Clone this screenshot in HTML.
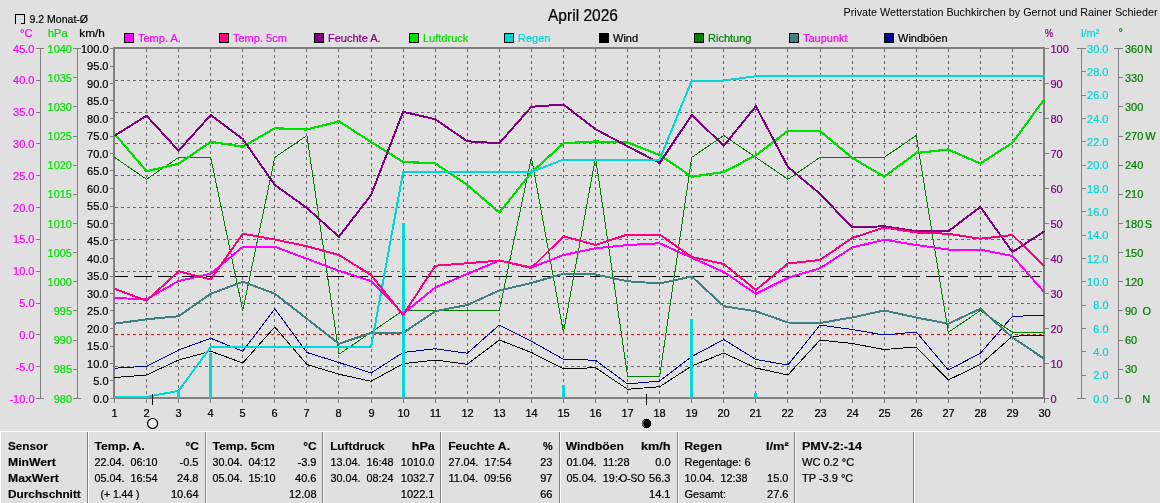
<!DOCTYPE html>
<html lang="de"><head><meta charset="utf-8"><title>April 2026 - Private Wetterstation Buchkirchen</title>
<style>html,body{margin:0;padding:0;background:#e0e0e0;overflow:hidden}svg{display:block}text{font-family:"Liberation Sans",Arial,sans-serif;font-size:11px;stroke-width:.22px}.b{font-weight:bold;stroke-width:.15px}</style>
</head><body>
<svg width="1160" height="503" viewBox="0 0 1160 503">
<rect x="0" y="0" width="1160" height="503" fill="#e0e0e0"/>
<g shape-rendering="crispEdges" fill="none">
<g stroke="#686868" stroke-width="1" stroke-dasharray="3 3">
<line x1="146.5" y1="49" x2="146.5" y2="397"/>
<line x1="178.5" y1="49" x2="178.5" y2="397"/>
<line x1="210.5" y1="49" x2="210.5" y2="397"/>
<line x1="242.5" y1="49" x2="242.5" y2="397"/>
<line x1="274.5" y1="49" x2="274.5" y2="397"/>
<line x1="306.5" y1="49" x2="306.5" y2="397"/>
<line x1="338.5" y1="49" x2="338.5" y2="397"/>
<line x1="371.5" y1="49" x2="371.5" y2="397"/>
<line x1="403.5" y1="49" x2="403.5" y2="397"/>
<line x1="435.5" y1="49" x2="435.5" y2="397"/>
<line x1="467.5" y1="49" x2="467.5" y2="397"/>
<line x1="499.5" y1="49" x2="499.5" y2="397"/>
<line x1="531.5" y1="49" x2="531.5" y2="397"/>
<line x1="563.5" y1="49" x2="563.5" y2="397"/>
<line x1="595.5" y1="49" x2="595.5" y2="397"/>
<line x1="627.5" y1="49" x2="627.5" y2="397"/>
<line x1="659.5" y1="49" x2="659.5" y2="397"/>
<line x1="691.5" y1="49" x2="691.5" y2="397"/>
<line x1="723.5" y1="49" x2="723.5" y2="397"/>
<line x1="755.5" y1="49" x2="755.5" y2="397"/>
<line x1="787.5" y1="49" x2="787.5" y2="397"/>
<line x1="820.5" y1="49" x2="820.5" y2="397"/>
<line x1="852.5" y1="49" x2="852.5" y2="397"/>
<line x1="884.5" y1="49" x2="884.5" y2="397"/>
<line x1="916.5" y1="49" x2="916.5" y2="397"/>
<line x1="948.5" y1="49" x2="948.5" y2="397"/>
<line x1="980.5" y1="49" x2="980.5" y2="397"/>
<line x1="1012.5" y1="49" x2="1012.5" y2="397"/>
<line x1="115" y1="80.5" x2="1043" y2="80.5"/>
<line x1="115" y1="112.5" x2="1043" y2="112.5"/>
<line x1="115" y1="143.5" x2="1043" y2="143.5"/>
<line x1="115" y1="175.5" x2="1043" y2="175.5"/>
<line x1="115" y1="207.5" x2="1043" y2="207.5"/>
<line x1="115" y1="239.5" x2="1043" y2="239.5"/>
<line x1="115" y1="271.5" x2="1043" y2="271.5"/>
<line x1="115" y1="303.5" x2="1043" y2="303.5"/>
<line x1="115" y1="366.5" x2="1043" y2="366.5"/>
</g>
<line x1="115" y1="334.5" x2="1043" y2="334.5" stroke="#ff0000" stroke-width="1" stroke-dasharray="3 3"/>
<line x1="114" y1="276.5" x2="1044" y2="276.5" stroke="#000" stroke-width="1" stroke-dasharray="18 6" stroke-dashoffset="4"/>
</g>
<g shape-rendering="crispEdges">
<rect x="114" y="48" width="930" height="350" fill="none" stroke="#808080" stroke-width="2"/>
<polyline points="114.5,368.25 146.57,366.25 178.64,350 210.71,338.25 242.78,351.25 274.84,308.75 306.91,352.5 338.98,362.5 371.05,373 403.12,352.5 435.19,348.75 467.26,353.25 499.33,325 531.4,341.25 563.47,359.25 595.53,360.25 627.6,384 659.67,381 691.74,356.5 723.81,339.5 755.88,359.5 787.95,365 820.02,325 852.09,329.5 884.16,335 916.22,332 948.29,370 980.36,353.25 1012.43,316.25 1044.5,315.5" fill="none" stroke="#000090" stroke-width="1" stroke-linejoin="round"/>
<polyline points="114.5,157.38 146.57,179.25 178.64,157.38 210.71,157.38 242.78,310.5 274.84,157.38 306.91,135.5 338.98,354.25 371.05,332.38 403.12,310.5 435.19,310.5 467.26,310.5 499.33,310.5 531.4,157.38 563.47,332.38 595.53,157.38 627.6,376.12 659.67,376.12 691.74,157.38 723.81,135.5 755.88,157.38 787.95,179.25 820.02,157.38 852.09,157.38 884.16,157.38 916.22,135.5 948.29,332.38 980.36,310.5 1012.43,332.38 1044.5,332.38" fill="none" stroke="#008000" stroke-width="1" stroke-linejoin="round"/>
<polyline points="114.5,377.5 146.57,375 178.64,360 210.71,351.25 242.78,363 274.84,327 306.91,364.5 338.98,374.25 371.05,381.25 403.12,363.75 435.19,360 467.26,364.25 499.33,340 531.4,352.5 563.47,368.75 595.53,367.75 627.6,389.25 659.67,386.75 691.74,366 723.81,353 755.88,368 787.95,375 820.02,340 852.09,343.5 884.16,349.5 916.22,347 948.29,380 980.36,364.5 1012.43,336.25 1044.5,335" fill="none" stroke="#000000" stroke-width="1" stroke-linejoin="round"/>
<polyline points="114.5,323.75 146.57,319.25 178.64,316.25 210.71,293.75 242.78,281.75 274.84,293.75 306.91,318.75 338.98,343.75 371.05,333 403.12,333 435.19,311.25 467.26,305 499.33,290.5 531.4,283 563.47,273.75 595.53,274.5 627.6,281.25 659.67,283.5 691.74,276.5 723.81,306.25 755.88,311.25 787.95,322.5 820.02,323 852.09,317.5 884.16,310.5 916.22,317.5 948.29,323.75 980.36,308.75 1012.43,337.5 1044.5,359" fill="none" stroke="#408080" stroke-width="2" stroke-linejoin="round"/>
<polyline points="114.5,133.75 146.57,171.25 178.64,163.75 210.71,141.75 242.78,146.75 274.84,128.25 306.91,129.5 338.98,121.25 371.05,142 403.12,162 435.19,163.25 467.26,185 499.33,212.5 531.4,172.5 563.47,143.25 595.53,141.5 627.6,142.5 659.67,155 691.74,176.75 723.81,172 755.88,155.25 787.95,131 820.02,131 852.09,157.75 884.16,176.75 916.22,153 948.29,149.5 980.36,163.5 1012.43,142.75 1044.5,99" fill="none" stroke="#00e000" stroke-width="2.2" stroke-linejoin="round"/>
<polyline points="114.5,135.75 146.57,115.75 178.64,150.75 210.71,115 242.78,139 274.84,185 306.91,208 338.98,236.75 371.05,195 403.12,111.75 435.19,119.25 467.26,141.25 499.33,143.25 531.4,106.75 563.47,104.5 595.53,129.25 627.6,146.25 659.67,163 691.74,115 723.81,145.75 755.88,106.25 787.95,167 820.02,193.75 852.09,227.5 884.16,226.25 916.22,231.25 948.29,231.25 980.36,207 1012.43,252 1044.5,231.25" fill="none" stroke="#800080" stroke-width="2" stroke-linejoin="round"/>
<rect x="177" y="390.75" width="3" height="7.25" fill="#00d8d8"/>
<rect x="209" y="352.5" width="3" height="45.5" fill="#00d8d8"/>
<rect x="402" y="222.5" width="3" height="175.5" fill="#00d8d8"/>
<rect x="562" y="385" width="3" height="13" fill="#00d8d8"/>
<rect x="690" y="318.75" width="3" height="79.25" fill="#00d8d8"/>
<rect x="754" y="392.75" width="3" height="5.25" fill="#00d8d8"/>
<polyline points="114.5,397 146.57,397 178.64,390.75 210.71,347 242.78,347 274.84,347 306.91,347 338.98,347 371.05,347 403.12,172 435.19,172 467.26,172 499.33,172 531.4,172 563.47,159.5 595.53,159.5 627.6,159.5 659.67,159.5 691.74,80.5 723.81,80.5 755.88,76.25 787.95,76.25 820.02,76.25 852.09,76.25 884.16,76.25 916.22,76.25 948.29,76.25 980.36,76.25 1012.43,76.25 1044.5,76.25" fill="none" stroke="#00d8d8" stroke-width="2" stroke-linejoin="round"/>
<polyline points="114.5,298 146.57,299.25 178.64,281 210.71,273.75 242.78,246.75 274.84,246.75 306.91,258.75 338.98,270.75 371.05,281 403.12,313.75 435.19,287.5 467.26,274 499.33,260.5 531.4,267.5 563.47,255 595.53,248.25 627.6,245 659.67,243.25 691.74,257.75 723.81,272 755.88,293.75 787.95,277.75 820.02,268.25 852.09,247.5 884.16,239.75 916.22,245 948.29,249.5 980.36,249.5 1012.43,256 1044.5,292.5" fill="none" stroke="#ff00ff" stroke-width="2" stroke-linejoin="round"/>
<polyline points="114.5,288.75 146.57,300.75 178.64,271.25 210.71,279.5 242.78,233.75 274.84,239.5 306.91,246.25 338.98,255 371.05,275 403.12,315 435.19,265.75 467.26,263.25 499.33,260.5 531.4,268 563.47,236.25 595.53,245 627.6,234.5 659.67,234.5 691.74,257 723.81,264 755.88,290 787.95,263.5 820.02,260 852.09,238 884.16,227.5 916.22,232.5 948.29,233.75 980.36,238.75 1012.43,235 1044.5,266.25" fill="none" stroke="#ff0080" stroke-width="2" stroke-linejoin="round"/>
</g>
<g shape-rendering="crispEdges">
<g stroke="#808080" stroke-width="1">
<line x1="114.5" y1="399" x2="114.5" y2="403"/>
<rect x="114" y="397" width="1" height="1" fill="#00d8d8" stroke="none"/>
<line x1="146.5" y1="399" x2="146.5" y2="403"/>
<rect x="146" y="397" width="1" height="1" fill="#00d8d8" stroke="none"/>
<line x1="178.5" y1="399" x2="178.5" y2="403"/>
<rect x="178" y="397" width="1" height="1" fill="#00d8d8" stroke="none"/>
<line x1="210.5" y1="399" x2="210.5" y2="403"/>
<rect x="210" y="397" width="1" height="1" fill="#00d8d8" stroke="none"/>
<line x1="242.5" y1="399" x2="242.5" y2="403"/>
<rect x="242" y="397" width="1" height="1" fill="#00d8d8" stroke="none"/>
<line x1="274.5" y1="399" x2="274.5" y2="403"/>
<rect x="274" y="397" width="1" height="1" fill="#00d8d8" stroke="none"/>
<line x1="306.5" y1="399" x2="306.5" y2="403"/>
<rect x="306" y="397" width="1" height="1" fill="#00d8d8" stroke="none"/>
<line x1="338.5" y1="399" x2="338.5" y2="403"/>
<rect x="338" y="397" width="1" height="1" fill="#00d8d8" stroke="none"/>
<line x1="371.5" y1="399" x2="371.5" y2="403"/>
<rect x="371" y="397" width="1" height="1" fill="#00d8d8" stroke="none"/>
<line x1="403.5" y1="399" x2="403.5" y2="403"/>
<rect x="403" y="397" width="1" height="1" fill="#00d8d8" stroke="none"/>
<line x1="435.5" y1="399" x2="435.5" y2="403"/>
<rect x="435" y="397" width="1" height="1" fill="#00d8d8" stroke="none"/>
<line x1="467.5" y1="399" x2="467.5" y2="403"/>
<rect x="467" y="397" width="1" height="1" fill="#00d8d8" stroke="none"/>
<line x1="499.5" y1="399" x2="499.5" y2="403"/>
<rect x="499" y="397" width="1" height="1" fill="#00d8d8" stroke="none"/>
<line x1="531.5" y1="399" x2="531.5" y2="403"/>
<rect x="531" y="397" width="1" height="1" fill="#00d8d8" stroke="none"/>
<line x1="563.5" y1="399" x2="563.5" y2="403"/>
<rect x="563" y="397" width="1" height="1" fill="#00d8d8" stroke="none"/>
<line x1="595.5" y1="399" x2="595.5" y2="403"/>
<rect x="595" y="397" width="1" height="1" fill="#00d8d8" stroke="none"/>
<line x1="627.5" y1="399" x2="627.5" y2="403"/>
<rect x="627" y="397" width="1" height="1" fill="#00d8d8" stroke="none"/>
<line x1="659.5" y1="399" x2="659.5" y2="403"/>
<rect x="659" y="397" width="1" height="1" fill="#00d8d8" stroke="none"/>
<line x1="691.5" y1="399" x2="691.5" y2="403"/>
<rect x="691" y="397" width="1" height="1" fill="#00d8d8" stroke="none"/>
<line x1="723.5" y1="399" x2="723.5" y2="403"/>
<rect x="723" y="397" width="1" height="1" fill="#00d8d8" stroke="none"/>
<line x1="755.5" y1="399" x2="755.5" y2="403"/>
<rect x="755" y="397" width="1" height="1" fill="#00d8d8" stroke="none"/>
<line x1="787.5" y1="399" x2="787.5" y2="403"/>
<rect x="787" y="397" width="1" height="1" fill="#00d8d8" stroke="none"/>
<line x1="820.5" y1="399" x2="820.5" y2="403"/>
<rect x="820" y="397" width="1" height="1" fill="#00d8d8" stroke="none"/>
<line x1="852.5" y1="399" x2="852.5" y2="403"/>
<rect x="852" y="397" width="1" height="1" fill="#00d8d8" stroke="none"/>
<line x1="884.5" y1="399" x2="884.5" y2="403"/>
<rect x="884" y="397" width="1" height="1" fill="#00d8d8" stroke="none"/>
<line x1="916.5" y1="399" x2="916.5" y2="403"/>
<rect x="916" y="397" width="1" height="1" fill="#00d8d8" stroke="none"/>
<line x1="948.5" y1="399" x2="948.5" y2="403"/>
<rect x="948" y="397" width="1" height="1" fill="#00d8d8" stroke="none"/>
<line x1="980.5" y1="399" x2="980.5" y2="403"/>
<rect x="980" y="397" width="1" height="1" fill="#00d8d8" stroke="none"/>
<line x1="1012.5" y1="399" x2="1012.5" y2="403"/>
<rect x="1012" y="397" width="1" height="1" fill="#00d8d8" stroke="none"/>
<line x1="1044.5" y1="399" x2="1044.5" y2="403"/>
<rect x="1044" y="397" width="1" height="1" fill="#00d8d8" stroke="none"/>
</g>
</g>
<g shape-rendering="crispEdges" stroke="#808080" stroke-width="1" fill="none">
<line x1="40.5" y1="48" x2="40.5" y2="399"/>
<line x1="77.5" y1="48" x2="77.5" y2="399"/>
<line x1="36" y1="48.5" x2="44" y2="48.5"/>
<line x1="36" y1="80.5" x2="40" y2="80.5"/>
<line x1="36" y1="112.5" x2="40" y2="112.5"/>
<line x1="36" y1="143.5" x2="40" y2="143.5"/>
<line x1="36" y1="175.5" x2="40" y2="175.5"/>
<line x1="36" y1="207.5" x2="40" y2="207.5"/>
<line x1="36" y1="239.5" x2="40" y2="239.5"/>
<line x1="36" y1="271.5" x2="40" y2="271.5"/>
<line x1="36" y1="303.5" x2="40" y2="303.5"/>
<line x1="36" y1="334.5" x2="40" y2="334.5"/>
<line x1="36" y1="366.5" x2="40" y2="366.5"/>
<line x1="36" y1="398.5" x2="44" y2="398.5"/>
<line x1="73" y1="48.5" x2="81" y2="48.5"/>
<line x1="73" y1="77.5" x2="77" y2="77.5"/>
<line x1="73" y1="106.5" x2="77" y2="106.5"/>
<line x1="73" y1="136.5" x2="77" y2="136.5"/>
<line x1="73" y1="165.5" x2="77" y2="165.5"/>
<line x1="73" y1="194.5" x2="77" y2="194.5"/>
<line x1="73" y1="223.5" x2="77" y2="223.5"/>
<line x1="73" y1="252.5" x2="77" y2="252.5"/>
<line x1="73" y1="281.5" x2="77" y2="281.5"/>
<line x1="73" y1="310.5" x2="77" y2="310.5"/>
<line x1="73" y1="340.5" x2="77" y2="340.5"/>
<line x1="73" y1="369.5" x2="77" y2="369.5"/>
<line x1="73" y1="398.5" x2="81" y2="398.5"/>
<line x1="110" y1="48.5" x2="113" y2="48.5"/>
<line x1="110" y1="66.5" x2="113" y2="66.5"/>
<line x1="110" y1="83.5" x2="113" y2="83.5"/>
<line x1="110" y1="100.5" x2="113" y2="100.5"/>
<line x1="110" y1="118.5" x2="113" y2="118.5"/>
<line x1="110" y1="136.5" x2="113" y2="136.5"/>
<line x1="110" y1="153.5" x2="113" y2="153.5"/>
<line x1="110" y1="170.5" x2="113" y2="170.5"/>
<line x1="110" y1="188.5" x2="113" y2="188.5"/>
<line x1="110" y1="206.5" x2="113" y2="206.5"/>
<line x1="110" y1="223.5" x2="113" y2="223.5"/>
<line x1="110" y1="240.5" x2="113" y2="240.5"/>
<line x1="110" y1="258.5" x2="113" y2="258.5"/>
<line x1="110" y1="276.5" x2="113" y2="276.5"/>
<line x1="110" y1="293.5" x2="113" y2="293.5"/>
<line x1="110" y1="310.5" x2="113" y2="310.5"/>
<line x1="110" y1="328.5" x2="113" y2="328.5"/>
<line x1="110" y1="346.5" x2="113" y2="346.5"/>
<line x1="110" y1="363.5" x2="113" y2="363.5"/>
<line x1="110" y1="380.5" x2="113" y2="380.5"/>
<line x1="110" y1="398.5" x2="113" y2="398.5"/>
<line x1="1045" y1="48.5" x2="1049" y2="48.5"/>
<line x1="1045" y1="83.5" x2="1049" y2="83.5"/>
<line x1="1045" y1="118.5" x2="1049" y2="118.5"/>
<line x1="1045" y1="153.5" x2="1049" y2="153.5"/>
<line x1="1045" y1="188.5" x2="1049" y2="188.5"/>
<line x1="1045" y1="223.5" x2="1049" y2="223.5"/>
<line x1="1045" y1="258.5" x2="1049" y2="258.5"/>
<line x1="1045" y1="293.5" x2="1049" y2="293.5"/>
<line x1="1045" y1="328.5" x2="1049" y2="328.5"/>
<line x1="1045" y1="363.5" x2="1049" y2="363.5"/>
<line x1="1045" y1="398.5" x2="1049" y2="398.5"/>
<line x1="1081.5" y1="48" x2="1081.5" y2="399"/>
<line x1="1077" y1="48.5" x2="1086" y2="48.5"/>
<line x1="1082" y1="71.5" x2="1086" y2="71.5"/>
<line x1="1082" y1="95.5" x2="1086" y2="95.5"/>
<line x1="1082" y1="118.5" x2="1086" y2="118.5"/>
<line x1="1082" y1="141.5" x2="1086" y2="141.5"/>
<line x1="1082" y1="165.5" x2="1086" y2="165.5"/>
<line x1="1082" y1="188.5" x2="1086" y2="188.5"/>
<line x1="1082" y1="211.5" x2="1086" y2="211.5"/>
<line x1="1082" y1="235.5" x2="1086" y2="235.5"/>
<line x1="1082" y1="258.5" x2="1086" y2="258.5"/>
<line x1="1082" y1="281.5" x2="1086" y2="281.5"/>
<line x1="1082" y1="305.5" x2="1086" y2="305.5"/>
<line x1="1082" y1="328.5" x2="1086" y2="328.5"/>
<line x1="1082" y1="351.5" x2="1086" y2="351.5"/>
<line x1="1082" y1="375.5" x2="1086" y2="375.5"/>
<line x1="1077" y1="398.5" x2="1086" y2="398.5"/>
<line x1="1118.5" y1="48" x2="1118.5" y2="399"/>
<line x1="1114" y1="48.5" x2="1123" y2="48.5"/>
<line x1="1119" y1="77.5" x2="1123" y2="77.5"/>
<line x1="1119" y1="106.5" x2="1123" y2="106.5"/>
<line x1="1119" y1="136.5" x2="1123" y2="136.5"/>
<line x1="1119" y1="165.5" x2="1123" y2="165.5"/>
<line x1="1119" y1="194.5" x2="1123" y2="194.5"/>
<line x1="1119" y1="223.5" x2="1123" y2="223.5"/>
<line x1="1119" y1="252.5" x2="1123" y2="252.5"/>
<line x1="1119" y1="281.5" x2="1123" y2="281.5"/>
<line x1="1119" y1="310.5" x2="1123" y2="310.5"/>
<line x1="1119" y1="340.5" x2="1123" y2="340.5"/>
<line x1="1119" y1="369.5" x2="1123" y2="369.5"/>
<line x1="1114" y1="398.5" x2="1123" y2="398.5"/>
</g>
<g>
<text x="34.5" y="52.5" fill="#ff00ff" stroke="#ff00ff" text-anchor="end">45.0</text>
<text x="34.5" y="84.32" fill="#ff00ff" stroke="#ff00ff" text-anchor="end">40.0</text>
<text x="34.5" y="116.14" fill="#ff00ff" stroke="#ff00ff" text-anchor="end">35.0</text>
<text x="34.5" y="147.95" fill="#ff00ff" stroke="#ff00ff" text-anchor="end">30.0</text>
<text x="34.5" y="179.77" fill="#ff00ff" stroke="#ff00ff" text-anchor="end">25.0</text>
<text x="34.5" y="211.59" fill="#ff00ff" stroke="#ff00ff" text-anchor="end">20.0</text>
<text x="34.5" y="243.41" fill="#ff00ff" stroke="#ff00ff" text-anchor="end">15.0</text>
<text x="34.5" y="275.23" fill="#ff00ff" stroke="#ff00ff" text-anchor="end">10.0</text>
<text x="34.5" y="307.05" fill="#ff00ff" stroke="#ff00ff" text-anchor="end">5.0</text>
<text x="34.5" y="338.86" fill="#ff00ff" stroke="#ff00ff" text-anchor="end">0.0</text>
<text x="34.5" y="370.68" fill="#ff00ff" stroke="#ff00ff" text-anchor="end">-5.0</text>
<text x="34.5" y="402.5" fill="#ff00ff" stroke="#ff00ff" text-anchor="end">-10.0</text>
<text x="72" y="52.5" fill="#00e000" stroke="#00e000" text-anchor="end">1040</text>
<text x="72" y="81.67" fill="#00e000" stroke="#00e000" text-anchor="end">1035</text>
<text x="72" y="110.83" fill="#00e000" stroke="#00e000" text-anchor="end">1030</text>
<text x="72" y="140" fill="#00e000" stroke="#00e000" text-anchor="end">1025</text>
<text x="72" y="169.17" fill="#00e000" stroke="#00e000" text-anchor="end">1020</text>
<text x="72" y="198.33" fill="#00e000" stroke="#00e000" text-anchor="end">1015</text>
<text x="72" y="227.5" fill="#00e000" stroke="#00e000" text-anchor="end">1010</text>
<text x="72" y="256.67" fill="#00e000" stroke="#00e000" text-anchor="end">1005</text>
<text x="72" y="285.83" fill="#00e000" stroke="#00e000" text-anchor="end">1000</text>
<text x="72" y="315" fill="#00e000" stroke="#00e000" text-anchor="end">995</text>
<text x="72" y="344.17" fill="#00e000" stroke="#00e000" text-anchor="end">990</text>
<text x="72" y="373.33" fill="#00e000" stroke="#00e000" text-anchor="end">985</text>
<text x="72" y="402.5" fill="#00e000" stroke="#00e000" text-anchor="end">980</text>
<text x="108.5" y="52.5" fill="#000" stroke="#000" text-anchor="end">100.0</text>
<text x="108.5" y="70" fill="#000" stroke="#000" text-anchor="end">95.0</text>
<text x="108.5" y="87.5" fill="#000" stroke="#000" text-anchor="end">90.0</text>
<text x="108.5" y="105" fill="#000" stroke="#000" text-anchor="end">85.0</text>
<text x="108.5" y="122.5" fill="#000" stroke="#000" text-anchor="end">80.0</text>
<text x="108.5" y="140" fill="#000" stroke="#000" text-anchor="end">75.0</text>
<text x="108.5" y="157.5" fill="#000" stroke="#000" text-anchor="end">70.0</text>
<text x="108.5" y="175" fill="#000" stroke="#000" text-anchor="end">65.0</text>
<text x="108.5" y="192.5" fill="#000" stroke="#000" text-anchor="end">60.0</text>
<text x="108.5" y="210" fill="#000" stroke="#000" text-anchor="end">55.0</text>
<text x="108.5" y="227.5" fill="#000" stroke="#000" text-anchor="end">50.0</text>
<text x="108.5" y="245" fill="#000" stroke="#000" text-anchor="end">45.0</text>
<text x="108.5" y="262.5" fill="#000" stroke="#000" text-anchor="end">40.0</text>
<text x="108.5" y="280" fill="#000" stroke="#000" text-anchor="end">35.0</text>
<text x="108.5" y="297.5" fill="#000" stroke="#000" text-anchor="end">30.0</text>
<text x="108.5" y="315" fill="#000" stroke="#000" text-anchor="end">25.0</text>
<text x="108.5" y="332.5" fill="#000" stroke="#000" text-anchor="end">20.0</text>
<text x="108.5" y="350" fill="#000" stroke="#000" text-anchor="end">15.0</text>
<text x="108.5" y="367.5" fill="#000" stroke="#000" text-anchor="end">10.0</text>
<text x="108.5" y="385" fill="#000" stroke="#000" text-anchor="end">5.0</text>
<text x="108.5" y="402.5" fill="#000" stroke="#000" text-anchor="end">0.0</text>
<text x="1050.5" y="52.5" fill="#800080" stroke="#800080">100</text>
<text x="1050.5" y="87.5" fill="#800080" stroke="#800080">90</text>
<text x="1050.5" y="122.5" fill="#800080" stroke="#800080">80</text>
<text x="1050.5" y="157.5" fill="#800080" stroke="#800080">70</text>
<text x="1050.5" y="192.5" fill="#800080" stroke="#800080">60</text>
<text x="1050.5" y="227.5" fill="#800080" stroke="#800080">50</text>
<text x="1050.5" y="262.5" fill="#800080" stroke="#800080">40</text>
<text x="1050.5" y="297.5" fill="#800080" stroke="#800080">30</text>
<text x="1050.5" y="332.5" fill="#800080" stroke="#800080">20</text>
<text x="1050.5" y="367.5" fill="#800080" stroke="#800080">10</text>
<text x="1050.5" y="402.5" fill="#800080" stroke="#800080">0</text>
<text x="1108.5" y="52.5" fill="#00d8d8" stroke="#00d8d8" text-anchor="end">30.0</text>
<text x="1108.5" y="75.83" fill="#00d8d8" stroke="#00d8d8" text-anchor="end">28.0</text>
<text x="1108.5" y="99.17" fill="#00d8d8" stroke="#00d8d8" text-anchor="end">26.0</text>
<text x="1108.5" y="122.5" fill="#00d8d8" stroke="#00d8d8" text-anchor="end">24.0</text>
<text x="1108.5" y="145.83" fill="#00d8d8" stroke="#00d8d8" text-anchor="end">22.0</text>
<text x="1108.5" y="169.17" fill="#00d8d8" stroke="#00d8d8" text-anchor="end">20.0</text>
<text x="1108.5" y="192.5" fill="#00d8d8" stroke="#00d8d8" text-anchor="end">18.0</text>
<text x="1108.5" y="215.83" fill="#00d8d8" stroke="#00d8d8" text-anchor="end">16.0</text>
<text x="1108.5" y="239.17" fill="#00d8d8" stroke="#00d8d8" text-anchor="end">14.0</text>
<text x="1108.5" y="262.5" fill="#00d8d8" stroke="#00d8d8" text-anchor="end">12.0</text>
<text x="1108.5" y="285.83" fill="#00d8d8" stroke="#00d8d8" text-anchor="end">10.0</text>
<text x="1108.5" y="309.17" fill="#00d8d8" stroke="#00d8d8" text-anchor="end">8.0</text>
<text x="1108.5" y="332.5" fill="#00d8d8" stroke="#00d8d8" text-anchor="end">6.0</text>
<text x="1108.5" y="355.83" fill="#00d8d8" stroke="#00d8d8" text-anchor="end">4.0</text>
<text x="1108.5" y="379.17" fill="#00d8d8" stroke="#00d8d8" text-anchor="end">2.0</text>
<text x="1108.5" y="402.5" fill="#00d8d8" stroke="#00d8d8" text-anchor="end">0.0</text>
<text x="1125" y="52.5" fill="#008000" stroke="#008000">360</text>
<text x="1144.6" y="52.5" fill="#008000" stroke="#008000">N</text>
<text x="1125" y="81.67" fill="#008000" stroke="#008000">330</text>
<text x="1125" y="110.83" fill="#008000" stroke="#008000">300</text>
<text x="1125" y="140" fill="#008000" stroke="#008000">270</text>
<text x="1145.2" y="140" fill="#008000" stroke="#008000">W</text>
<text x="1125" y="169.17" fill="#008000" stroke="#008000">240</text>
<text x="1125" y="198.33" fill="#008000" stroke="#008000">210</text>
<text x="1125" y="227.5" fill="#008000" stroke="#008000">180</text>
<text x="1144.8" y="227.5" fill="#008000" stroke="#008000">S</text>
<text x="1125" y="256.67" fill="#008000" stroke="#008000">150</text>
<text x="1125" y="285.83" fill="#008000" stroke="#008000">120</text>
<text x="1125" y="315" fill="#008000" stroke="#008000">90</text>
<text x="1142.6" y="315" fill="#008000" stroke="#008000">O</text>
<text x="1125" y="344.17" fill="#008000" stroke="#008000">60</text>
<text x="1125" y="373.33" fill="#008000" stroke="#008000">30</text>
<text x="1125" y="402.5" fill="#008000" stroke="#008000">0</text>
<text x="1142.2" y="402.5" fill="#008000" stroke="#008000">N</text>
<text x="20" y="37" fill="#ff00ff" stroke="#ff00ff">°C</text>
<text x="48" y="37" fill="#00e000" stroke="#00e000">hPa</text>
<text x="79.3" y="37" fill="#000" stroke="#000" textLength="25.6" lengthAdjust="spacingAndGlyphs">km/h</text>
<text x="1045" y="37" fill="#800080" stroke="#800080" textLength="8" lengthAdjust="spacingAndGlyphs">%</text>
<text x="1081" y="37" fill="#00d8d8" stroke="#00d8d8">l/m²</text>
<text x="1118.5" y="35.5" fill="#008000" stroke="#008000">°</text>
<text x="114.5" y="417" fill="#000" stroke="#000" text-anchor="middle">1</text>
<text x="146.5" y="417" fill="#000" stroke="#000" text-anchor="middle">2</text>
<text x="178.5" y="417" fill="#000" stroke="#000" text-anchor="middle">3</text>
<text x="210.5" y="417" fill="#000" stroke="#000" text-anchor="middle">4</text>
<text x="242.5" y="417" fill="#000" stroke="#000" text-anchor="middle">5</text>
<text x="274.5" y="417" fill="#000" stroke="#000" text-anchor="middle">6</text>
<text x="306.5" y="417" fill="#000" stroke="#000" text-anchor="middle">7</text>
<text x="338.5" y="417" fill="#000" stroke="#000" text-anchor="middle">8</text>
<text x="371.5" y="417" fill="#000" stroke="#000" text-anchor="middle">9</text>
<text x="403.5" y="417" fill="#000" stroke="#000" text-anchor="middle">10</text>
<text x="435.5" y="417" fill="#000" stroke="#000" text-anchor="middle">11</text>
<text x="467.5" y="417" fill="#000" stroke="#000" text-anchor="middle">12</text>
<text x="499.5" y="417" fill="#000" stroke="#000" text-anchor="middle">13</text>
<text x="531.5" y="417" fill="#000" stroke="#000" text-anchor="middle">14</text>
<text x="563.5" y="417" fill="#000" stroke="#000" text-anchor="middle">15</text>
<text x="595.5" y="417" fill="#000" stroke="#000" text-anchor="middle">16</text>
<text x="627.5" y="417" fill="#000" stroke="#000" text-anchor="middle">17</text>
<text x="659.5" y="417" fill="#000" stroke="#000" text-anchor="middle">18</text>
<text x="691.5" y="417" fill="#000" stroke="#000" text-anchor="middle">19</text>
<text x="723.5" y="417" fill="#000" stroke="#000" text-anchor="middle">20</text>
<text x="755.5" y="417" fill="#000" stroke="#000" text-anchor="middle">21</text>
<text x="787.5" y="417" fill="#000" stroke="#000" text-anchor="middle">22</text>
<text x="820.5" y="417" fill="#000" stroke="#000" text-anchor="middle">23</text>
<text x="852.5" y="417" fill="#000" stroke="#000" text-anchor="middle">24</text>
<text x="884.5" y="417" fill="#000" stroke="#000" text-anchor="middle">25</text>
<text x="916.5" y="417" fill="#000" stroke="#000" text-anchor="middle">26</text>
<text x="948.5" y="417" fill="#000" stroke="#000" text-anchor="middle">27</text>
<text x="980.5" y="417" fill="#000" stroke="#000" text-anchor="middle">28</text>
<text x="1012.5" y="417" fill="#000" stroke="#000" text-anchor="middle">29</text>
<text x="1044.5" y="417" fill="#000" stroke="#000" text-anchor="middle">30</text>
</g>
<text x="548" y="20.5" fill="#000" stroke="#000" textLength="70" lengthAdjust="spacingAndGlyphs" style="font-size:16px">April 2026</text>
<text x="843.5" y="15.5" fill="#000" textLength="314" lengthAdjust="spacingAndGlyphs">Private Wetterstation Buchkirchen by Gernot und Rainer Schieder</text>
<path d="M15.5 23.5V14.5H24.5V23.5H20.5" fill="none" stroke="#000" stroke-width="1" shape-rendering="crispEdges"/>
<text x="29.5" y="23" fill="#000" stroke="#000" textLength="58.5" lengthAdjust="spacingAndGlyphs">9.2 Monat-Ø</text>
<rect x="124.5" y="33.5" width="9" height="9" fill="#ff00ff" stroke="#000" stroke-width="1" shape-rendering="crispEdges"/>
<text x="138" y="42" fill="#ff00ff" stroke="#ff00ff">Temp. A.</text>
<rect x="219.5" y="33.5" width="9" height="9" fill="#ff0080" stroke="#000" stroke-width="1" shape-rendering="crispEdges"/>
<text x="233" y="42" fill="#ff00ff" stroke="#ff00ff">Temp. 5cm</text>
<rect x="314.5" y="33.5" width="9" height="9" fill="#800080" stroke="#000" stroke-width="1" shape-rendering="crispEdges"/>
<text x="328" y="42" fill="#800080" stroke="#800080">Feuchte A.</text>
<rect x="409.5" y="33.5" width="9" height="9" fill="#00e000" stroke="#000" stroke-width="1" shape-rendering="crispEdges"/>
<text x="423" y="42" fill="#00e000" stroke="#00e000">Luftdruck</text>
<rect x="504.5" y="33.5" width="9" height="9" fill="#00d8d8" stroke="#000" stroke-width="1" shape-rendering="crispEdges"/>
<text x="518" y="42" fill="#00d8d8" stroke="#00d8d8">Regen</text>
<rect x="599.5" y="33.5" width="9" height="9" fill="#000" stroke="#000" stroke-width="1" shape-rendering="crispEdges"/>
<text x="613" y="42" fill="#000" stroke="#000">Wind</text>
<rect x="694.5" y="33.5" width="9" height="9" fill="#008000" stroke="#000" stroke-width="1" shape-rendering="crispEdges"/>
<text x="708" y="42" fill="#008000" stroke="#008000">Richtung</text>
<rect x="789.5" y="33.5" width="9" height="9" fill="#408080" stroke="#000" stroke-width="1" shape-rendering="crispEdges"/>
<text x="803" y="42" fill="#ff00ff" stroke="#ff00ff">Taupunkt</text>
<rect x="884.5" y="33.5" width="9" height="9" fill="#000090" stroke="#000" stroke-width="1" shape-rendering="crispEdges"/>
<text x="898" y="42" fill="#000" stroke="#000">Windböen</text>
<g shape-rendering="crispEdges" stroke="#000" stroke-width="1"><line x1="152.5" y1="394" x2="152.5" y2="405"/><line x1="646.5" y1="394" x2="646.5" y2="405"/></g>
<circle cx="152.6" cy="423.5" r="5" fill="#eeeeee" stroke="#000" stroke-width="1.2"/>
<circle cx="646.5" cy="423.5" r="5.2" fill="#000" stroke="#f4f4f4" stroke-width="1"/><path d="M644.3 420.2A4.2 4.2 0 0 0 644.3 426.8" fill="none" stroke="#e8e8e8" stroke-width=".7"/>
<g shape-rendering="crispEdges">
<rect x="0" y="431" width="1160" height="1" fill="#ffffff"/>
<rect x="0" y="431" width="1" height="72" fill="#ffffff"/>
<rect x="87" y="432" width="1" height="71" fill="#808080"/>
<rect x="88" y="432" width="1" height="71" fill="#ffffff"/>
<rect x="205" y="432" width="1" height="71" fill="#808080"/>
<rect x="206" y="432" width="1" height="71" fill="#ffffff"/>
<rect x="322" y="432" width="1" height="71" fill="#808080"/>
<rect x="323" y="432" width="1" height="71" fill="#ffffff"/>
<rect x="440" y="432" width="1" height="71" fill="#808080"/>
<rect x="441" y="432" width="1" height="71" fill="#ffffff"/>
<rect x="559" y="432" width="1" height="71" fill="#808080"/>
<rect x="560" y="432" width="1" height="71" fill="#ffffff"/>
<rect x="677" y="432" width="1" height="71" fill="#808080"/>
<rect x="678" y="432" width="1" height="71" fill="#ffffff"/>
<rect x="794" y="432" width="1" height="71" fill="#808080"/>
<rect x="795" y="432" width="1" height="71" fill="#ffffff"/>
<rect x="913" y="432" width="1" height="71" fill="#808080"/>
<rect x="914" y="432" width="1" height="71" fill="#ffffff"/>
</g>
<text x="8.05" y="449.5" fill="#000" stroke="#000" class="b" textLength="39.7" lengthAdjust="spacingAndGlyphs">Sensor</text>
<text x="8.05" y="465.5" fill="#000" stroke="#000" class="b" textLength="47.7" lengthAdjust="spacingAndGlyphs">MinWert</text>
<text x="8.05" y="481.5" fill="#000" stroke="#000" class="b" textLength="50.7" lengthAdjust="spacingAndGlyphs">MaxWert</text>
<text x="8.05" y="497.5" fill="#000" stroke="#000" class="b" textLength="72.7" lengthAdjust="spacingAndGlyphs">Durchschnitt</text>
<text x="94.4" y="449.5" fill="#000" stroke="#000" class="b" textLength="50.4" lengthAdjust="spacingAndGlyphs">Temp. A.</text>
<text x="198.85" y="449.5" fill="#000" stroke="#000" text-anchor="end" class="b" textLength="13.4" lengthAdjust="spacingAndGlyphs">°C</text>
<text x="94.5" y="465.5" fill="#000" stroke="#000" textLength="63" lengthAdjust="spacingAndGlyphs">22.04.&#160;&#160;06:10</text>
<text x="198.5" y="465.5" fill="#000" stroke="#000" text-anchor="end">-0.5</text>
<text x="94.5" y="481.5" fill="#000" stroke="#000" textLength="63" lengthAdjust="spacingAndGlyphs">05.04.&#160;&#160;16:54</text>
<text x="198.5" y="481.5" fill="#000" stroke="#000" text-anchor="end">24.8</text>
<text x="198.5" y="497.5" fill="#000" stroke="#000" text-anchor="end">10.64</text>
<text x="100.5" y="497.5" fill="#000" stroke="#000" textLength="39" lengthAdjust="spacingAndGlyphs">(+ 1.44 )</text>
<text x="212.5" y="449.5" fill="#000" stroke="#000" class="b" textLength="62.4" lengthAdjust="spacingAndGlyphs">Temp. 5cm</text>
<text x="316.6" y="449.5" fill="#000" stroke="#000" text-anchor="end" class="b" textLength="13.4" lengthAdjust="spacingAndGlyphs">°C</text>
<text x="212.5" y="465.5" fill="#000" stroke="#000" textLength="63" lengthAdjust="spacingAndGlyphs">30.04.&#160;&#160;04:12</text>
<text x="316.5" y="465.5" fill="#000" stroke="#000" text-anchor="end">-3.9</text>
<text x="212.5" y="481.5" fill="#000" stroke="#000" textLength="63" lengthAdjust="spacingAndGlyphs">05.04.&#160;&#160;15:10</text>
<text x="316.5" y="481.5" fill="#000" stroke="#000" text-anchor="end">40.6</text>
<text x="316.5" y="497.5" fill="#000" stroke="#000" text-anchor="end">12.08</text>
<text x="330.15" y="449.5" fill="#000" stroke="#000" class="b" textLength="54.4" lengthAdjust="spacingAndGlyphs">Luftdruck</text>
<text x="434.85" y="449.5" fill="#000" stroke="#000" text-anchor="end" class="b" textLength="23.15" lengthAdjust="spacingAndGlyphs">hPa</text>
<text x="330.5" y="465.5" fill="#000" stroke="#000" textLength="63" lengthAdjust="spacingAndGlyphs">13.04.&#160;&#160;16:48</text>
<text x="434.5" y="465.5" fill="#000" stroke="#000" text-anchor="end">1010.0</text>
<text x="330.5" y="481.5" fill="#000" stroke="#000" textLength="63" lengthAdjust="spacingAndGlyphs">30.04.&#160;&#160;08:24</text>
<text x="434.5" y="481.5" fill="#000" stroke="#000" text-anchor="end">1032.7</text>
<text x="434.5" y="497.5" fill="#000" stroke="#000" text-anchor="end">1022.1</text>
<text x="448.15" y="449.5" fill="#000" stroke="#000" class="b" textLength="61.9" lengthAdjust="spacingAndGlyphs">Feuchte A.</text>
<text x="552.6" y="449.5" fill="#000" stroke="#000" text-anchor="end" class="b" textLength="9.65" lengthAdjust="spacingAndGlyphs">%</text>
<text x="448.5" y="465.5" fill="#000" stroke="#000" textLength="63" lengthAdjust="spacingAndGlyphs">27.04.&#160;&#160;17:54</text>
<text x="552.5" y="465.5" fill="#000" stroke="#000" text-anchor="end">23</text>
<text x="448.5" y="481.5" fill="#000" stroke="#000" textLength="63" lengthAdjust="spacingAndGlyphs">11.04.&#160;&#160;09:56</text>
<text x="552.5" y="481.5" fill="#000" stroke="#000" text-anchor="end">97</text>
<text x="552.5" y="497.5" fill="#000" stroke="#000" text-anchor="end">66</text>
<text x="565.65" y="449.5" fill="#000" stroke="#000" class="b" textLength="58.15" lengthAdjust="spacingAndGlyphs">Windböen</text>
<text x="670.6" y="449.5" fill="#000" stroke="#000" text-anchor="end" class="b" textLength="29.65" lengthAdjust="spacingAndGlyphs">km/h</text>
<text x="566.5" y="465.5" fill="#000" stroke="#000" textLength="63" lengthAdjust="spacingAndGlyphs">01.04.&#160;&#160;11:28</text>
<text x="670.5" y="465.5" fill="#000" stroke="#000" text-anchor="end">0.0</text>
<text x="670.5" y="481.5" fill="#000" stroke="#000" text-anchor="end">56.3</text>
<text x="670.5" y="497.5" fill="#000" stroke="#000" text-anchor="end">14.1</text>
<text x="566.5" y="481.5" fill="#000" stroke="#000" textLength="57.5" lengthAdjust="spacingAndGlyphs">05.04.&#160;&#160;19:4</text>
<rect x="620" y="472" width="25" height="12" fill="#e0e0e0"/>
<text x="619.5" y="481.5" fill="#000" stroke="#000" textLength="25.5" lengthAdjust="spacingAndGlyphs">O-SO</text>
<text x="684.15" y="449.5" fill="#000" stroke="#000" class="b" textLength="37.9" lengthAdjust="spacingAndGlyphs">Regen</text>
<text x="788.7" y="449.5" fill="#000" stroke="#000" text-anchor="end" class="b" textLength="22.65" lengthAdjust="spacingAndGlyphs">l/m²</text>
<text x="684.5" y="465.5" fill="#000" stroke="#000">Regentage: 6</text>
<text x="684.5" y="481.5" fill="#000" stroke="#000" textLength="63" lengthAdjust="spacingAndGlyphs">10.04.&#160;&#160;12:38</text>
<text x="788.5" y="481.5" fill="#000" stroke="#000" text-anchor="end">15.0</text>
<text x="684.5" y="497.5" fill="#000" stroke="#000">Gesamt:</text>
<text x="788.5" y="497.5" fill="#000" stroke="#000" text-anchor="end">27.6</text>
<text x="801.9" y="449.5" fill="#000" stroke="#000" class="b" textLength="60.15" lengthAdjust="spacingAndGlyphs">PMV-2:-14</text>
<text x="802" y="465.5" fill="#000" stroke="#000">WC 0.2 °C</text>
<text x="802" y="481.5" fill="#000" stroke="#000">TP -3.9 °C</text>
</svg></body></html>
